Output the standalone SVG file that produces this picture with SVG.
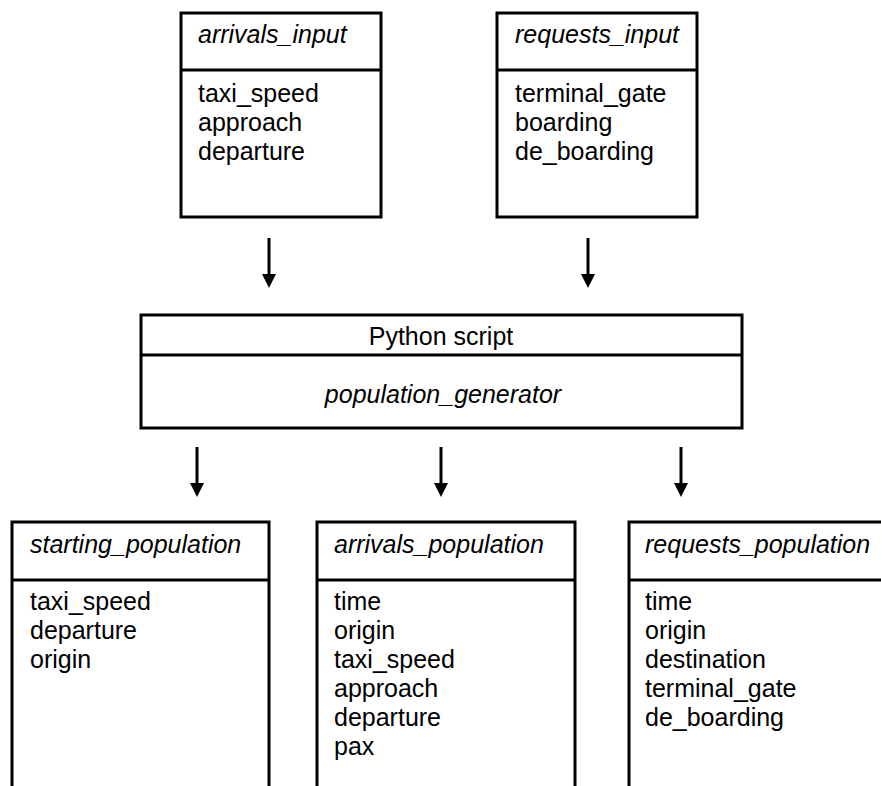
<svg xmlns="http://www.w3.org/2000/svg" width="881" height="786" viewBox="0 0 881 786">
<defs>
<style>
.box{fill:#fff;stroke:#000;stroke-width:3}
.div{stroke:#000;stroke-width:3}
text{font-family:"Liberation Sans",Arial,sans-serif;font-size:25px;fill:#000}
.it{font-style:italic}
.c{text-anchor:middle}
.conn{stroke:#000;stroke-width:3;fill:none}
</style>
<marker id="ah" markerUnits="userSpaceOnUse" markerWidth="14" markerHeight="14" viewBox="0 0 14 14" refX="4" refY="7" orient="auto">
<path d="M0,0 L14,7 L0,14 Z" fill="#000"/>
</marker>
</defs>
<rect width="881" height="786" fill="#fff"/>
<g id="arrivals_input">
<rect class="box" x="181" y="13" width="200" height="204"/>
<line class="div" x1="181" y1="70" x2="381" y2="70"/>
<text class="it" x="198" y="43">arrivals_input</text>
<text x="198" y="102">taxi_speed</text>
<text x="198" y="131">approach</text>
<text x="198" y="160">departure</text>
</g>
<g id="requests_input">
<rect class="box" x="497" y="13" width="200" height="204"/>
<line class="div" x1="497" y1="70" x2="697" y2="70"/>
<text class="it" x="515" y="43">requests_input</text>
<text x="515" y="102">terminal_gate</text>
<text x="515" y="131">boarding</text>
<text x="515" y="160">de_boarding</text>
</g>
<g id="python_script">
<rect class="box" x="141" y="315" width="601" height="113"/>
<line class="div" x1="141" y1="355" x2="742" y2="355"/>
<text class="c" x="441" y="345">Python script</text>
<text class="it c" x="443" y="403">population_generator</text>
</g>
<g id="starting_population">
<rect class="box" x="12" y="522" width="257" height="290"/>
<line class="div" x1="12" y1="580" x2="269" y2="580"/>
<text class="it" x="30" y="553">starting_population</text>
<text x="30" y="610">taxi_speed</text>
<text x="30" y="639">departure</text>
<text x="30" y="668">origin</text>
</g>
<g id="arrivals_population">
<rect class="box" x="317" y="522" width="258" height="290"/>
<line class="div" x1="317" y1="580" x2="575" y2="580"/>
<text class="it" x="334" y="553">arrivals_population</text>
<text x="334" y="610">time</text>
<text x="334" y="639">origin</text>
<text x="334" y="668">taxi_speed</text>
<text x="334" y="697">approach</text>
<text x="334" y="726">departure</text>
<text x="334" y="755">pax</text>
</g>
<g id="requests_population">
<rect class="box" x="629" y="522" width="290" height="290"/>
<line class="div" x1="629" y1="580" x2="919" y2="580"/>
<text class="it" x="645" y="553">requests_population</text>
<text x="645" y="610">time</text>
<text x="645" y="639">origin</text>
<text x="645" y="668">destination</text>
<text x="645" y="697">terminal_gate</text>
<text x="645" y="726">de_boarding</text>
</g>
<g id="connectors">
<line class="conn" x1="269" y1="238" x2="269" y2="278" marker-end="url(#ah)"/>
<line class="conn" x1="588" y1="238" x2="588" y2="278" marker-end="url(#ah)"/>
<line class="conn" x1="197" y1="447" x2="197" y2="487" marker-end="url(#ah)"/>
<line class="conn" x1="441" y1="447" x2="441" y2="487" marker-end="url(#ah)"/>
<line class="conn" x1="681" y1="447" x2="681" y2="487" marker-end="url(#ah)"/>
</g>
</svg>
